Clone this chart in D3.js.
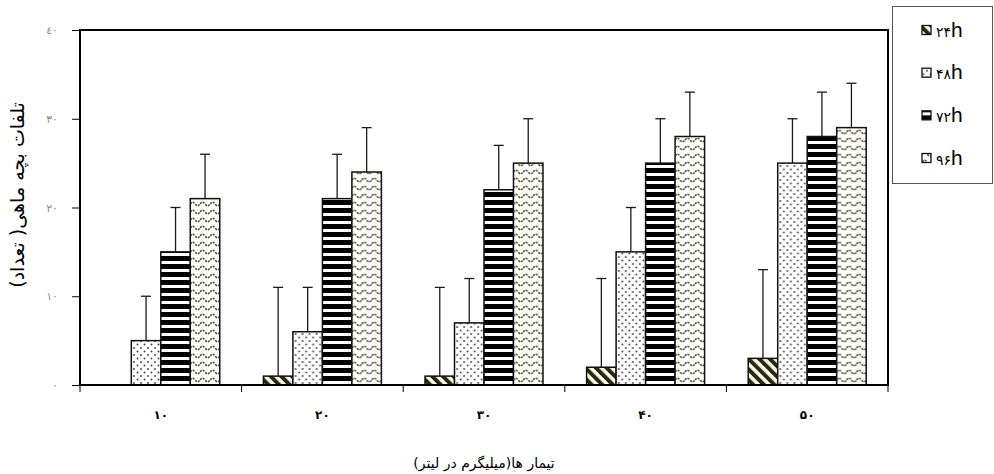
<!DOCTYPE html>
<html>
<head>
<meta charset="utf-8">
<script src="https://cdn.jsdelivr.net/npm/d3@7"></script>
<style>
  body { margin: 0; background: #fff; }
  svg { display: block; font-family: "Liberation Sans", "DejaVu Sans", sans-serif; }
</style>
</head>
<body>
<div id="chart"></div>
<script>
// data
let categories = ['10', '20', '30', '40', '50'];
let categoryLabels = ['۱۰', '۲۰', '۳۰', '۴۰', '۵۰'];
let series = ['24h', '48h', '72h', '96h'];
let seriesDigits = ['۲۴', '۴۸', '۷۲', '۹۶'];
let values24 = [0, 1, 1, 2, 3];
let values48 = [5, 6, 7, 15, 25];
let values72 = [15, 21, 22, 25, 28];
let values96 = [21, 24, 25, 28, 29];
let errors24 = [0, 10, 10, 10, 10];
let errors48 = [5, 5, 5, 5, 5];
let errors72 = [5, 5, 5, 5, 5];
let errors96 = [5, 5, 5, 5, 5];
let yTicks = [0, 10, 20, 30, 40];
let yTickLabels = ['۰', '۱۰', '۲۰', '۳۰', '٤٠'];

let allValues = [values24, values48, values72, values96];
let allErrors = [errors24, errors48, errors72, errors96];

//#region variables
let width = 994,
    height = 474,
    plotLeft = 80,
    plotRight = 888,
    plotTop = 30,
    plotBottom = 385;
//#endregion

let svg = d3.select('#chart').append('svg')
    .attr('width', width)
    .attr('height', height);

//#region patterns
let defs = svg.append('defs');

let p24 = defs.append('pattern').attr('id', 'p24')
    .attr('patternUnits', 'userSpaceOnUse')
    .attr('width', 7.5).attr('height', 7.5)
    .attr('patternTransform', 'rotate(-45)');
p24.append('rect').attr('width', 7.5).attr('height', 7.5).attr('fill', '#fff');
p24.append('rect').attr('width', 4).attr('height', 7.5).attr('fill', '#2a2a05');

let p48 = defs.append('pattern').attr('id', 'p48')
    .attr('patternUnits', 'userSpaceOnUse')
    .attr('width', 7).attr('height', 7);
p48.append('rect').attr('width', 7).attr('height', 7).attr('fill', '#fff');
p48.append('circle').attr('cx', 1.5).attr('cy', 1.5).attr('r', 0.95).attr('fill', '#444');
p48.append('circle').attr('cx', 5).attr('cy', 5).attr('r', 0.95).attr('fill', '#444');

let p72 = defs.append('pattern').attr('id', 'p72')
    .attr('patternUnits', 'userSpaceOnUse')
    .attr('width', 8).attr('height', 8);
p72.append('rect').attr('width', 8).attr('height', 8).attr('fill', '#fff');
p72.append('rect').attr('width', 8).attr('height', 5).attr('fill', '#000');

let p96 = defs.append('pattern').attr('id', 'p96')
    .attr('patternUnits', 'userSpaceOnUse')
    .attr('width', 10).attr('height', 8);
p96.append('rect').attr('width', 10).attr('height', 8).attr('fill', '#fff');
p96.append('path')
    .attr('d', 'M0,4 Q2.5,0.5 5,4 T10,4')
    .attr('fill', 'none')
    .attr('stroke', '#4f4f22')
    .attr('stroke-width', 1.6)
    .attr('stroke-dasharray', '2.2,1');

let fills = ['url(#p24)', 'url(#p48)', 'url(#p72)', 'url(#p96)'];
//#endregion

//#region scales
let x0 = d3.scaleBand().domain(categories).range([plotLeft, plotRight]).padding(0);
let gap = x0.bandwidth() * 0.135;
let x1 = d3.scaleBand().domain(series).range([gap, x0.bandwidth() - gap]).padding(0);
let yScale = d3.scaleLinear().domain([0, 40]).range([plotBottom, plotTop]);
//#endregion

//#region axis
let axisY = d3.axisLeft(yScale)
    .tickValues(yTicks)
    .tickSize(8)
    .tickFormat((d, i) => yTickLabels[i]);

let gy = svg.append('g')
    .attr('transform', `translate(${plotLeft}, 0)`)
    .call(axisY);
gy.select('.domain').remove();
gy.selectAll('.tick line').attr('stroke', '#000');
gy.selectAll('.tick text')
    .attr('x', -22)
    .attr('fill', '#8a8a8a')
    .style('font-size', '11px')
    .style('font-family', 'DejaVu Sans');

// ticks between the groups
let xTicks = categories.map(c => x0(c)).concat([plotRight]);
svg.append('g').selectAll('line')
    .data(xTicks)
    .enter()
    .append('line')
    .attr('x1', d => d).attr('x2', d => d)
    .attr('y1', plotBottom).attr('y2', plotBottom + 7)
    .attr('stroke', '#000');

svg.append('g').selectAll('text')
    .data(categories)
    .enter()
    .append('text')
    .attr('x', d => x0(d) + x0.bandwidth() / 2)
    .attr('y', 419)
    .attr('text-anchor', 'middle')
    .style('font-size', '12px')
    .style('font-weight', 'bold')
    .style('font-family', 'DejaVu Sans')
    .text((d, i) => categoryLabels[i]);
//#endregion

//#region bars
let groups = svg.append('g').selectAll('g')
    .data(categories)
    .enter()
    .append('g')
    .attr('transform', d => `translate(${x0(d)}, 0)`);

// error bars (drawn first, bars sit on top)
groups.selectAll('g.err')
    .data((d, i) => series.map((s, k) => ({ s: s, v: allValues[k][i], e: allErrors[k][i] })).filter(o => o.e > 0))
    .enter()
    .append('g')
    .attr('class', 'err')
    .each(function (d) {
        let cx = x1(d.s) + x1.bandwidth() / 2;
        let g = d3.select(this);
        g.append('line')
            .attr('x1', cx).attr('x2', cx)
            .attr('y1', yScale(d.v)).attr('y2', yScale(d.v + d.e))
            .attr('stroke', '#1a1a1a').attr('stroke-width', 1.3);
        g.append('line')
            .attr('x1', cx - 5).attr('x2', cx + 5)
            .attr('y1', yScale(d.v + d.e)).attr('y2', yScale(d.v + d.e))
            .attr('stroke', '#1a1a1a').attr('stroke-width', 1.3);
    });

groups.selectAll('rect')
    .data((d, i) => series.map((s, k) => ({ s: s, k: k, v: allValues[k][i] })).filter(o => o.v > 0))
    .enter()
    .append('rect')
    .attr('x', d => x1(d.s))
    .attr('width', x1.bandwidth())
    .attr('y', d => yScale(d.v))
    .attr('height', d => yScale(0) - yScale(d.v))
    .attr('fill', d => fills[d.k])
    .attr('stroke', '#111')
    .attr('stroke-width', 1.5);
//#endregion

// plot frame
svg.append('rect')
    .attr('x', plotLeft).attr('y', plotTop)
    .attr('width', plotRight - plotLeft).attr('height', plotBottom - plotTop)
    .attr('fill', 'none')
    .attr('stroke', '#000')
    .attr('stroke-width', 2);

//#region titles
svg.append('text')
    .attr('transform', `translate(24, 195) rotate(-90)`)
    .attr('text-anchor', 'middle')
    .attr('direction', 'rtl')
    .style('font-size', '19px')
    .style('font-family', 'DejaVu Sans')
    .text('تلفات بچه ماهی( تعداد)');

svg.append('text')
    .attr('x', 484).attr('y', 468)
    .attr('text-anchor', 'middle')
    .attr('direction', 'rtl')
    .style('font-size', '14px')
    .style('font-family', 'DejaVu Sans')
    .text('تیمار ها(میلیگرم در لیتر)');
//#endregion

//#region legend
svg.append('rect')
    .attr('x', 892.5).attr('y', 6.5)
    .attr('width', 100).attr('height', 177)
    .attr('fill', '#fff')
    .attr('stroke', '#555')
    .attr('stroke-width', 1);

let legendY = d3.scalePoint().domain(series).range([30, 158]);

let items = svg.append('g').selectAll('g')
    .data(series)
    .enter()
    .append('g')
    .attr('transform', d => `translate(922, ${legendY(d)})`);

items.append('rect')
    .attr('x', 0).attr('y', -4.5)
    .attr('width', 9).attr('height', 9)
    .attr('fill', (d, i) => fills[i])
    .attr('stroke', '#111')
    .attr('stroke-width', 1.3);

let lt = items.append('text')
    .attr('x', 14).attr('y', 6.5);
lt.append('tspan')
    .style('font-size', '14px')
    .style('font-family', 'DejaVu Sans')
    .text((d, i) => seriesDigits[i]);
lt.append('tspan')
    .style('font-size', '21px')
    .text('h');
//#endregion
</script>
</body>
</html>
